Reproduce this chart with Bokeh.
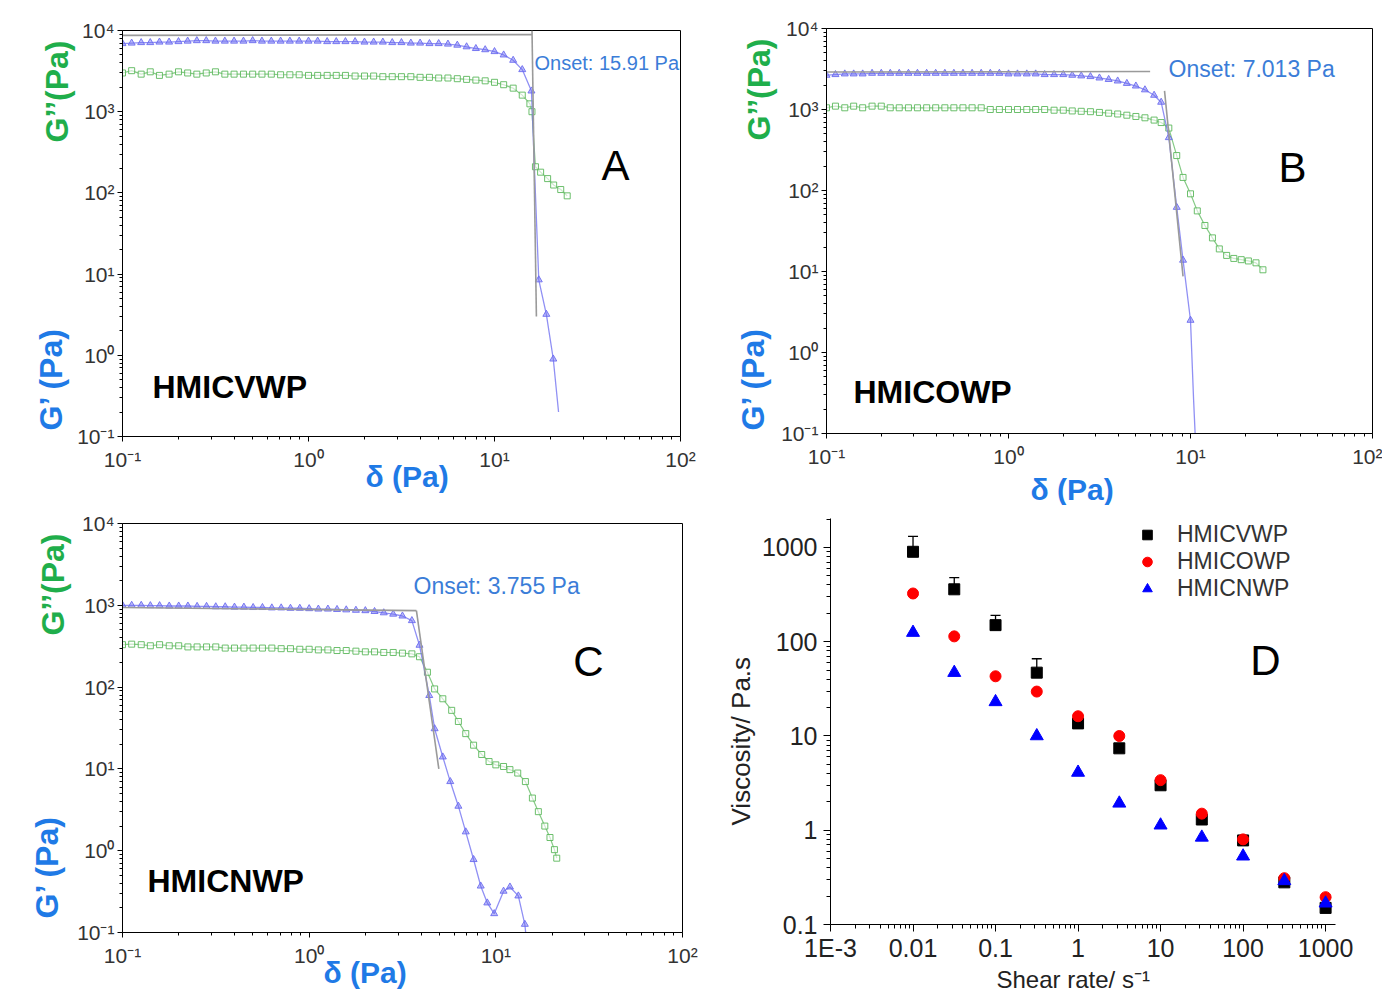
import math
from bokeh.plotting import figure
from bokeh.models import (Range1d, Label, Title, FixedTicker, CustomJSTickFormatter,
                          Whisker, TeeHead, ColumnDataSource)
from bokeh.layouts import row, column
from bokeh.embed import file_html
from bokeh.resources import INLINE

# ---------------- data ----------------
STRESS = [0.1, 0.112, 0.126, 0.141, 0.158, 0.178, 0.2, 0.224, 0.251, 0.282,
          0.316, 0.355, 0.398, 0.447, 0.501, 0.562, 0.631, 0.708, 0.794, 0.891,
          1.0, 1.12, 1.26, 1.41, 1.58, 1.78, 2.0, 2.24, 2.51, 2.82,
          3.16, 3.55, 3.98, 4.47, 5.01, 5.62, 6.31, 7.08, 7.94, 8.91,
          10.0, 11.2, 12.6, 14.1]

# Panel A  (HMICVWP)
A_GP_X = STRESS + [15.8, 17.3, 19.0, 20.7]
A_GP_Y = [6900, 7000, 7100, 7100, 7200, 7200, 7300, 7400, 7500, 7500,
          7400, 7400, 7400, 7400, 7500, 7400, 7400, 7400, 7400, 7400,
          7400, 7400, 7300, 7300, 7300, 7300, 7200, 7200, 7200, 7100,
          7100, 7000, 7000, 6900, 6900, 6800, 6600, 6300, 6000, 5800,
          5500, 5000, 4300, 3300,
          1800, 8.5, 3.2, 0.9]
A_GP_END_X = [22.1]
A_GP_END_Y = [0.2]
A_GPP_X = STRESS + [15.5, 15.9, 16.6, 17.7, 19.3, 20.8, 22.7, 24.6]
A_GPP_Y = [3000, 3200, 2900, 3100, 2800, 2900, 3100, 3000, 2900, 3000,
           3100, 2900, 2900, 2900, 2900, 2900, 2900, 2850, 2850, 2850,
           2800, 2800, 2800, 2800, 2800, 2750, 2750, 2750, 2700, 2700,
           2700, 2700, 2650, 2650, 2600, 2600, 2550, 2500, 2450, 2400,
           2300, 2150, 1950, 1600,
           1250, 1000, 210, 180, 150, 125, 110, 92]
A_TAN_H_X = [0.1, 15.91]
A_TAN_H_Y = [8700, 8900]
A_TAN_V_X = [15.91, 16.8]
A_TAN_V_Y = [10000, 3]

# Panel B  (HMICOWP)
B_GP_X = STRESS[:37] + [6.9, 7.6, 8.4, 9.1, 10.0]
B_GP_Y = [2650, 2700, 2750, 2750, 2750, 2800, 2800, 2800, 2800, 2800,
          2800, 2800, 2800, 2800, 2800, 2800, 2800, 2800, 2800, 2800,
          2750, 2750, 2750, 2750, 2700, 2700, 2700, 2650, 2600, 2550,
          2450, 2350, 2250, 2100, 1950, 1750, 1500,
          1230, 450, 62, 13.8, 2.5]
B_GP_END_X = [10.4, 10.8]
B_GP_END_Y = [0.26, 0.04]
B_GPP_X = STRESS[:37] + [6.9, 7.6, 8.4, 9.1, 10.0, 10.9, 12.0, 13.2, 14.4,
                         15.8, 17.3, 19.0, 20.8, 22.9, 25.0]
B_GPP_Y = [1050, 1100, 1050, 1100, 1050, 1100, 1100, 1050, 1050, 1050,
           1050, 1050, 1050, 1050, 1050, 1050, 1050, 1050, 1000, 1000,
           1000, 1000, 1000, 1000, 1000, 980, 980, 960, 950, 940,
           920, 900, 880, 850, 820, 790, 740,
           690, 590, 270, 145, 91, 56, 37, 26, 19, 15.8, 14.5, 14, 13.5, 12.8, 10.5]
B_TAN_H_X = [0.1, 6.0]
B_TAN_H_Y = [2900, 2950]
B_TAN_V_X = [7.2, 9.1]
B_TAN_V_Y = [1700, 8.7]

# Panel C  (HMICNWP)
C_GP_X = STRESS[:32] + [3.9, 4.4, 4.7, 5.2, 5.7, 6.3, 6.9, 7.6, 8.3, 9.0,
                        9.8, 11.0, 11.9, 13.2, 14.3]
C_GP_Y = [1000, 1000, 1000, 990, 990, 980, 980, 980, 970, 970,
          960, 960, 950, 950, 940, 940, 930, 930, 920, 920,
          910, 900, 900, 890, 880, 870, 860, 840, 810, 780, 740, 650,
          325, 79, 31, 14, 7, 3.5, 1.7, 0.78, 0.37, 0.23,
          0.17, 0.32, 0.36, 0.28, 0.126]
C_GP_END_X = [14.6]
C_GP_END_Y = [0.08]
C_GPP_X = STRESS[:32] + [3.9, 4.3, 4.7, 5.2, 5.8, 6.3, 6.9, 7.6, 8.4, 9.2,
                         10.0, 11.0, 11.9, 13.1, 14.4, 15.7, 16.9, 18.3, 19.5,
                         20.6, 21.2]
C_GPP_Y = [330, 335, 330, 320, 330, 320, 320, 310, 310, 310,
           310, 300, 300, 300, 300, 300, 300, 295, 295, 290,
           290, 285, 285, 280, 280, 275, 270, 270, 265, 265, 260, 255,
           235, 152, 95, 72, 52, 38, 27, 19.5, 15, 12.3,
           11.2, 10.7, 9.8, 8.9, 7.0, 4.4, 3.0, 2.0, 1.45, 1.03, 0.81]
C_TAN_H_X = [0.1, 3.755]
C_TAN_H_Y = [940, 860]
C_TAN_V_X = [3.755, 4.95]
C_TAN_V_Y = [860, 10]

ONSETS = ["Onset: 15.91 Pa", "Onset: 7.013 Pa", "Onset: 3.755 Pa"]
SAMPLES = ["HMICVWP", "HMICOWP", "HMICNWP"]
PANEL_LETTERS = ["A", "B", "C", "D"]

# Panel D  (viscosity vs shear rate)
D_SHEAR = [0.01, 0.0316, 0.1, 0.316, 1, 3.16, 10, 31.6, 100, 316, 1000]
D_CV = [900, 360, 150, 47, 13.6, 7.4, 3.0, 1.3, 0.78, 0.28, 0.15]
D_CV_ERR = [410, 120, 40, 19]
D_CO = [325, 114, 43, 29.6, 16.2, 10, 3.4, 1.5, 0.8, 0.31, 0.195]
D_CN = [125, 47, 23, 10, 4.1, 1.93, 1.13, 0.84, 0.53, 0.29, 0.168]

# ---------------- styles ----------------
FONT = "Liberation Sans"
BLUE_TXT = "#1f7ae6"
GREEN_TXT = "#1fae4b"
GP_C = "#6b6bf0"
GPP_C = "#5cb85c"
TAN_C = "#9a9a9a"
ONSET_C = "#3b7dd8"
TICK_C = "#333333"
NBSP = "\u00a0"

SUP_FMT = r"""
const e = Math.round(Math.log10(tick));
const s = {"-1": "\u207b\u00b9", "0": "\u2070", "1": "\u00b9", "2": "\u00b2", "3": "\u00b3", "4": "\u2074"};
return "10" + s[String(e)];
"""
D_FMT = r"""
const e = Math.round(Math.log10(tick));
const m = {"-3": "1E-3", "-2": "0.01", "-1": "0.1", "0": "1", "1": "10", "2": "100", "3": "1000"};
return m[String(e)];
"""


def data_pos(xr, yr, W, H, dx, dy):
    lx0, lx1 = math.log10(xr[0]), math.log10(xr[1])
    ly0, ly1 = math.log10(yr[0]), math.log10(yr[1])
    return 10 ** (lx0 + dx / W * (lx1 - lx0)), 10 ** (ly1 - dy / H * (ly1 - ly0))


def add_text(p, pos, text, size, color, bold=False, align="center"):
    p.add_layout(Label(x=pos[0], y=pos[1], text=text, text_font=FONT,
                       text_font_size=f"{size}px", text_color=color,
                       text_font_style="bold" if bold else "normal",
                       text_align=align, text_baseline="middle"))


def side_title(p, side, text, size, color, bold, align, offset, standoff):
    p.add_layout(Title(text=text, align=align, offset=offset, standoff=standoff,
                       vertical_align="middle", text_font=FONT,
                       text_font_size=f"{size}px", text_color=color,
                       text_font_style="bold" if bold else "normal"), side)


def spacer(ax, standoff):
    ax.axis_label = NBSP
    ax.axis_label_text_font_size = "1px"
    ax.axis_label_standoff = standoff


def minor_list(e0, e1, maxv):
    return [m * 10.0 ** e for e in range(e0, e1) for m in range(2, 10) if m * 10.0 ** e <= maxv]


def style_axes(p, size, fmt_code, tick_out=5, minor_out=3, ystandoff=3, xstandoff=3):
    for ax in (p.xaxis[0], p.yaxis[0]):
        ax.formatter = CustomJSTickFormatter(code=fmt_code)
        ax.major_label_text_font = FONT
        ax.major_label_text_font_size = f"{size}px"
        ax.major_label_text_color = TICK_C
        ax.major_tick_in = 0
        ax.major_tick_out = tick_out
        ax.minor_tick_in = 0
        ax.minor_tick_out = minor_out
        ax.axis_line_color = "black"
        ax.major_tick_line_color = "black"
        ax.minor_tick_line_color = "black"
    p.yaxis[0].major_label_standoff = ystandoff
    p.xaxis[0].major_label_standoff = xstandoff
    p.xgrid.visible = False
    p.ygrid.visible = False


XR = (0.1, 100)
YR = (0.1, 1e4)


def rheo_panel(width, height, bl, br, bt, bb, gp, gpp, tan_h, tan_v, idx, pos, sp):
    W = width - bl - br
    H = height - bt - bb
    p = figure(width=width, height=height, x_axis_type="log", y_axis_type="log",
               x_range=Range1d(*XR), y_range=Range1d(*YR),
               output_backend="svg", toolbar_location=None,
               min_border_left=bl, min_border_right=br,
               min_border_top=bt, min_border_bottom=bb,
               background_fill_color="white", border_fill_color="white")
    p.outline_line_color = "black"
    p.outline_line_width = 1
    p.xaxis.ticker = FixedTicker(ticks=[0.1, 1, 10, 100], minor_ticks=minor_list(-1, 2, 100))
    p.yaxis.ticker = FixedTicker(ticks=[0.1, 1, 10, 100, 1000, 10000],
                                 minor_ticks=minor_list(-1, 4, 10000))
    style_axes(p, 21, SUP_FMT, ystandoff=3, xstandoff=6)

    gpx, gpy, endx, endy = gp
    gppx, gppy = gpp
    p.line(gppx, gppy, line_color=GPP_C, line_width=1.2, line_alpha=0.75)
    p.scatter(gppx, gppy, marker="square", size=6, fill_color="white", fill_alpha=0.6,
              line_color=GPP_C, line_alpha=0.9)
    p.line(gpx + endx, gpy + endy, line_color=GP_C, line_width=1.3, line_alpha=0.75)
    p.scatter(gpx, gpy, marker="triangle", size=7, fill_color=GP_C, fill_alpha=0.45,
              line_color=GP_C, line_alpha=0.9)
    p.line(tan_h[0], tan_h[1], line_color=TAN_C, line_width=1.6)
    p.line(tan_v[0], tan_v[1], line_color=TAN_C, line_width=1.6)

    def P(dx, dy):
        return data_pos(XR, YR, W, H, dx, dy)

    # texts outside the frame live in the side panels (titles)
    if sp["y"] is not None:
        spacer(p.yaxis[0], sp["y"])
    if sp["x"] is not None:
        spacer(p.xaxis[0], sp["x"])
    side_title(p, "left", "G\u2019\u2019(Pa)", 32, GREEN_TXT, True, "right", pos["gpp"], -32)
    side_title(p, "left", "G\u2019 (Pa)", 32, BLUE_TXT, True, "left", pos["gp"], -32)
    side_title(p, "below", "\u03b4 (Pa)", 30, BLUE_TXT, True, "left", pos["delta"], -30)

    add_text(p, P(*pos["letter"]), PANEL_LETTERS[idx], 42, "black")
    add_text(p, P(*pos["sample"]), SAMPLES[idx], 32, "black", bold=True, align="left")
    add_text(p, P(*pos["onset"]), ONSETS[idx], pos["onset_size"], ONSET_C, align="left")
    return p


pA = rheo_panel(712, 505, 122, 32, 30, 69,
                (A_GP_X, A_GP_Y, A_GP_END_X, A_GP_END_Y), (A_GPP_X, A_GPP_Y),
                (A_TAN_H_X, A_TAN_H_Y), (A_TAN_V_X, A_TAN_V_Y), 0,
                dict(gpp=10, gp=6, delta=243, letter=(493, 135),
                     sample=(30, 356), onset=(412, 32), onset_size=20),
                dict(y=11, x=None))
pB = rheo_panel(670, 505, 114, 10, 28, 72,
                (B_GP_X, B_GP_Y, B_GP_END_X, B_GP_END_Y), (B_GPP_X, B_GPP_Y),
                (B_TAN_H_X, B_TAN_H_Y), (B_TAN_V_X, B_TAN_V_Y), 1,
                dict(gpp=10, gp=3, delta=204, letter=(466, 139),
                     sample=(27, 363), onset=(342, 40), onset_size=23),
                dict(y=13, x=12))
pC = rheo_panel(698, 486, 122, 16, 18, 59,
                (C_GP_X, C_GP_Y, C_GP_END_X, C_GP_END_Y), (C_GPP_X, C_GPP_Y),
                (C_TAN_H_X, C_TAN_H_Y), (C_TAN_V_X, C_TAN_V_Y), 2,
                dict(gpp=10, gp=14, delta=201, letter=(466, 138),
                     sample=(25, 357), onset=(291, 62), onset_size=23),
                dict(y=15, x=None))

# ---------------- panel D ----------------
DXR = (1e-3, 1318)
DYR = (0.1, 2030)
dW, dH = 684 - 132 - 47, 486 - 13 - 67
pD = figure(width=684, height=486, x_axis_type="log", y_axis_type="log",
            x_range=Range1d(*DXR), y_range=Range1d(*DYR),
            output_backend="svg", toolbar_location=None,
            min_border_left=132, min_border_right=47, min_border_top=13, min_border_bottom=67)
pD.outline_line_color = None
pD.xaxis.ticker = FixedTicker(ticks=[1e-3, 1e-2, 0.1, 1, 10, 100, 1000],
                              minor_ticks=minor_list(-3, 4, 1318))
pD.yaxis.ticker = FixedTicker(ticks=[0.1, 1, 10, 100, 1000], minor_ticks=minor_list(-1, 4, 2030))
style_axes(pD, 25, D_FMT, tick_out=7, minor_out=4, ystandoff=6, xstandoff=2)
pD.xaxis.major_label_text_color = "#222222"
pD.yaxis.major_label_text_color = "#222222"

err_src = ColumnDataSource(dict(base=D_SHEAR[:len(D_CV_ERR)],
                                lower=D_CV[:len(D_CV_ERR)],
                                upper=[v + e for v, e in zip(D_CV, D_CV_ERR)]))
pD.add_layout(Whisker(source=err_src, base="base", lower="lower", upper="upper",
                      line_color="black", line_width=1.3,
                      upper_head=TeeHead(size=10, line_color="black", line_width=1.3),
                      lower_head=None))
pD.scatter(D_SHEAR, D_CV, marker="square", size=11, color="black", legend_label=SAMPLES[0])
pD.scatter(D_SHEAR, D_CO, marker="circle", size=11, color="#ff0000", legend_label=SAMPLES[1])
pD.scatter(D_SHEAR, D_CN, marker="triangle", size=13, color="#0000ff", legend_label=SAMPLES[2])
lg = pD.legend[0]
lg.location = (305, 322)
lg.label_text_font = FONT
lg.label_text_font_size = "23px"
lg.label_text_color = "#333333"
lg.label_height = 27
lg.glyph_height = 27
lg.glyph_width = 24
lg.spacing = 0
lg.padding = 0
lg.margin = 0
lg.label_standoff = 18
lg.border_line_alpha = 0
lg.background_fill_alpha = 0


def PD(dx, dy):
    return data_pos(DXR, DYR, dW, dH, dx, dy)


spacer(pD.yaxis[0], 10)
spacer(pD.xaxis[0], 8)
side_title(pD, "left", "Viscosity/ Pa.s", 26, "#222222", False, "left", 99, -25)
side_title(pD, "below", "Shear rate/ s\u207b\u00b9", 24, "#222222", False, "left", 166, -24)
add_text(pD, PD(435, 142), PANEL_LETTERS[3], 42, "black")

# each figure sits in its own column so that the rows do not align their frames
layout = column(row(column(pA), column(pB)), row(column(pC), column(pD)))
open("out.html", "w", encoding="utf-8").write(file_html(layout, INLINE))
